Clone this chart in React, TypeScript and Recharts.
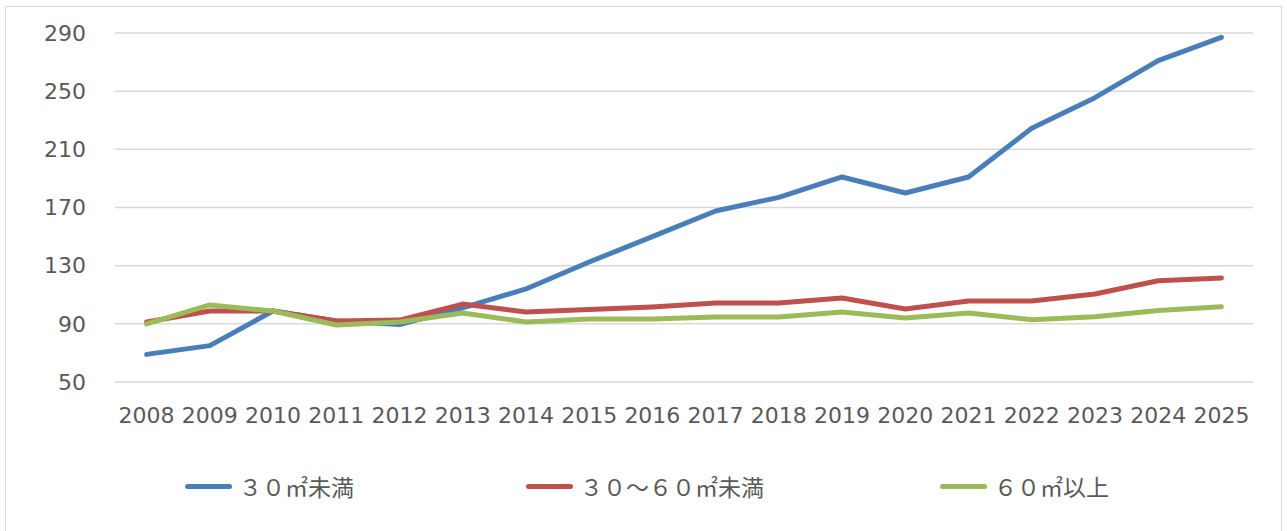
import { LineChart, Line, XAxis, YAxis, CartesianGrid, Legend } from 'recharts'

const years = ['2008', '2009', '2010', '2011', '2012', '2013', '2014', '2015', '2016', '2017', '2018', '2019', '2020', '2021', '2022', '2023', '2024', '2025']
const under30 = [69, 75, 98.8, 92, 89.5, 101, 114, 132.5, 150, 167.6, 177, 191, 180, 191, 224.5, 245.5, 271, 287]
const from30to60 = [91.3, 98.8, 98.8, 92, 92.6, 103.6, 98.1, 99.8, 101.6, 104.3, 104.3, 107.8, 100.2, 105.7, 105.7, 110.5, 119.6, 121.6]
const over60 = [89.9, 103, 98.8, 89.2, 91.3, 97.5, 91.3, 93.3, 93.3, 94.7, 94.7, 98.1, 94, 97.5, 92.8, 94.9, 99.2, 101.8]
const yTicks = [50, 90, 130, 170, 210, 250, 290]

const seriesNames = ['３０㎡未満', '３０～６０㎡未満', '６０㎡以上']
const seriesColors = ['#4a7ebb', '#c0504d', '#9bbb59']

const rows = years.map((year, i) => ({
  year,
  a: under30[i],
  b: from30to60[i],
  c: over60[i],
}))

const TICK_FONT = '"DejaVu Sans", Verdana, sans-serif'
const JP_FONT = '"Noto Sans CJK JP", "Noto Sans", sans-serif'

function LegendRow() {
  const lefts = [185, 526, 940]
  return (
    <div style={{ position: 'relative', width: 1287, height: 30 }}>
      {seriesNames.map((name, i) => (
        <div
          key={name}
          style={{
            position: 'absolute',
            left: lefts[i],
            top: 0,
            display: 'flex',
            alignItems: 'center',
            font: `400 23px/30px ${JP_FONT}`,
            color: '#595959',
            whiteSpace: 'nowrap',
          }}
        >
          <span
            style={{
              display: 'inline-block',
              width: 47,
              height: 5,
              borderRadius: 3,
              background: seriesColors[i],
              marginRight: 7,
            }}
          />
          {name}
        </div>
      ))}
    </div>
  )
}

export default function App() {
  return (
    <div style={{ position: 'relative', width: 1287, height: 531, background: '#fff', overflow: 'hidden' }}>
      <style>{'body{margin:0}'}</style>
      {/* 外枠 */}
      <div
        style={{
          position: 'absolute',
          left: 5,
          top: 6,
          width: 1277,
          height: 540,
          border: '1.5px solid #d9d9d9',
          boxSizing: 'border-box',
        }}
      />
      <LineChart
        width={1287}
        height={531}
        data={rows}
        margin={{ top: 33, right: 34, left: 0, bottom: 0 }}
        style={{ position: 'absolute', left: 0, top: 0, fontFamily: TICK_FONT }}
      >
        <CartesianGrid vertical={false} stroke="#d9d9d9" strokeWidth={1.5} />
        <XAxis
          dataKey="year"
          axisLine={false}
          tickLine={false}
          tickSize={0}
          tickMargin={25}
          height={60}
          padding={{ left: 31.6, right: 31.6 }}
          interval={0}
          tick={{ fontSize: 22, fill: '#595959', fontFamily: TICK_FONT }}
        />
        <YAxis
          domain={[50, 290]}
          ticks={yTicks}
          axisLine={false}
          tickLine={false}
          tickSize={0}
          tickMargin={29}
          width={115}
          interval={0}
          tick={{ fontSize: 22, fill: '#595959', fontFamily: TICK_FONT }}
        />
        <Legend
          verticalAlign="bottom"
          height={89}
          content={() => (
            <div style={{ paddingTop: 29 }}>
              <LegendRow />
            </div>
          )}
        />
        <Line dataKey="a" name={seriesNames[0]} stroke={seriesColors[0]} strokeWidth={5} dot={false} strokeLinecap="round" strokeLinejoin="round" isAnimationActive={false} />
        <Line dataKey="b" name={seriesNames[1]} stroke={seriesColors[1]} strokeWidth={5} dot={false} strokeLinecap="round" strokeLinejoin="round" isAnimationActive={false} />
        <Line dataKey="c" name={seriesNames[2]} stroke={seriesColors[2]} strokeWidth={5} dot={false} strokeLinecap="round" strokeLinejoin="round" isAnimationActive={false} />
      </LineChart>
    </div>
  )
}
